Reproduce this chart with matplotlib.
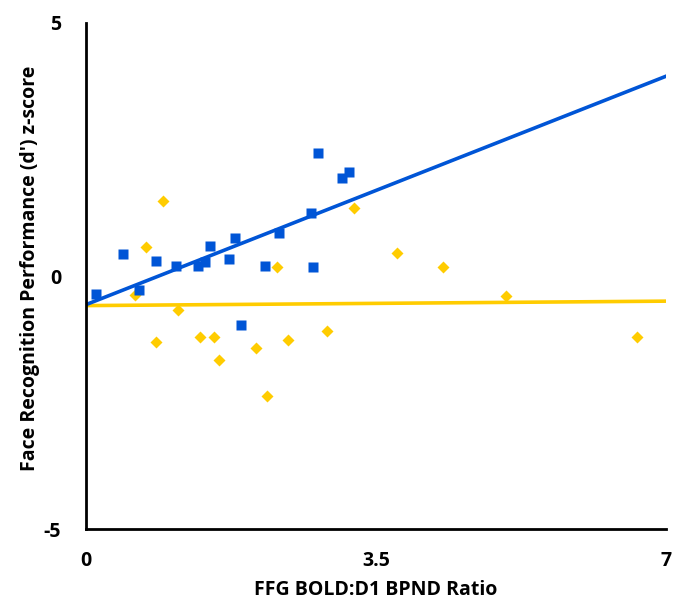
import numpy as np
import matplotlib.pyplot as plt

# blue squares
blue_x = [0.12, 0.45, 0.64, 0.84, 1.09, 1.35, 1.44, 1.50, 1.73, 1.80, 1.87, 2.16, 2.33, 2.71, 2.74, 2.80, 3.09, 3.17]
blue_y = [-0.36, 0.43, -0.28, 0.29, 0.20, 0.20, 0.28, 0.59, 0.34, 0.75, -0.97, 0.19, 0.84, 1.25, 0.17, 2.44, 1.93, 2.05]

# yellow diamonds
yellow_x = [0.59, 0.72, 0.93, 1.11, 0.84, 1.37, 1.54, 1.61, 2.05, 2.19, 2.30, 2.44, 2.91, 3.24, 3.75, 4.31, 5.07, 6.65]
yellow_y = [-0.37, 0.57, 1.49, -0.68, -1.31, -1.21, -1.21, -1.66, -1.43, -2.38, 0.18, -1.26, -1.09, 1.34, 0.45, 0.18, -0.39, -1.20]

x_ticks = [0, 3.5, 7]
y_ticks = [-5, 0, 5]

blue = "#0055D6"
yellow = "#FFCC00"

plt.rcParams['font.family'] = ['Open Sans', 'DejaVu Sans']
plt.rcParams['axes.unicode_minus'] = False

fig = plt.figure(figsize=(6.81, 6.05), dpi=100)
ax = fig.add_axes([0.1263, 0.1256, 0.8517, 0.8364])

# trend lines (least squares, like the Excel trendline)
xx = np.array([0, 7])
bb = np.polyfit(blue_x, blue_y, 1)
yb = np.polyfit(yellow_x, yellow_y, 1)
ax.plot(xx, np.polyval(yb, xx), color=yellow, lw=2.6, zorder=2)
ax.plot(xx, np.polyval(bb, xx), color=blue, lw=2.6, zorder=2)

ax.plot(yellow_x, yellow_y, "D", color=yellow, ms=6.5, mec="none", zorder=3)
ax.plot(blue_x, blue_y, "s", color=blue, ms=7, mec="none", zorder=4)

ax.set_xlim(0, 7)
ax.set_ylim(-5, 5)
ax.set_xticks(x_ticks)
ax.set_xticklabels(["0", "3.5", "7"])
ax.set_yticks(y_ticks)
ax.tick_params(length=0, labelsize=14, pad=16)
ax.tick_params(axis="y", pad=18)
for lab in ax.get_xticklabels() + ax.get_yticklabels():
    lab.set_fontweight("bold")

for s in ["top", "right"]:
    ax.spines[s].set_visible(False)
for s in ["left", "bottom"]:
    ax.spines[s].set_linewidth(2)
    ax.spines[s].set_color("black")

ax.set_xlabel("FFG BOLD:D1 BPND Ratio", fontsize=14, fontweight="bold", labelpad=6)
ax.set_ylabel("Face Recognition Performance (d') z-score", fontsize=14, fontweight="bold")
ax.yaxis.set_label_coords(-0.079, 0.516)

fig.savefig("out.png", dpi=100)
